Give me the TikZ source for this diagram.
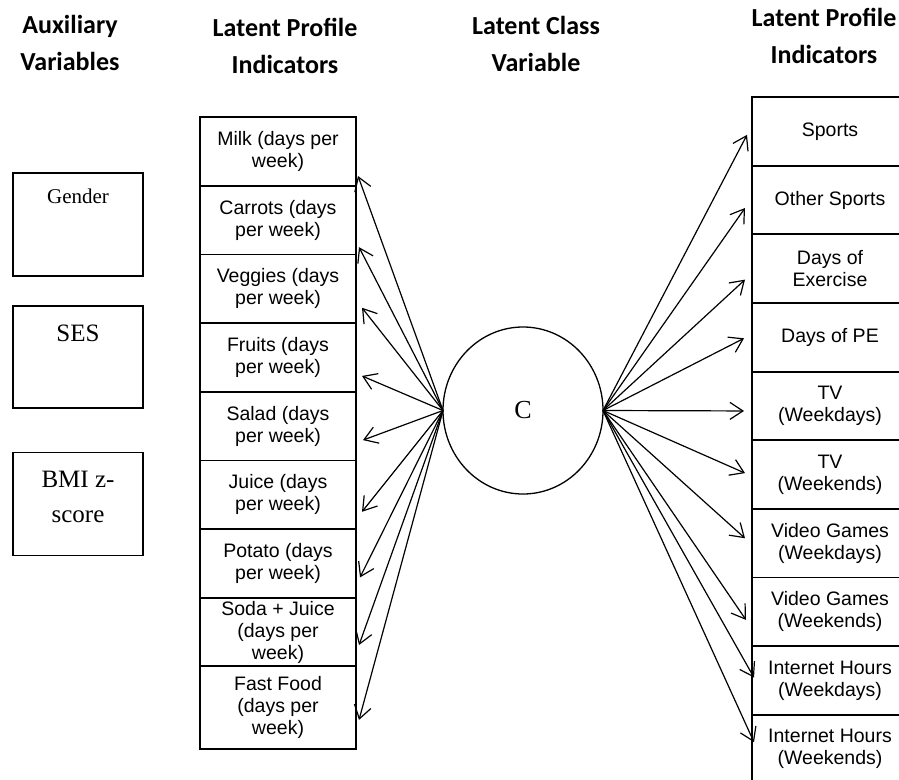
\documentclass[tikz,border=0pt]{standalone}
\usepackage{fontspec}
\setmainfont{Liberation Sans}
\newfontfamily\serifface{Liberation Serif}
\newfontfamily\headface{Carlito}
\usetikzlibrary{positioning,shapes.geometric,arrows.meta}
\tikzset{
	row node/.style={rectangle, draw, line width=1.8pt, minimum width=156pt, minimum height=68.65pt, inner sep=0, outer sep=0, align=center, font=\fontsize{19.5}{22}\selectfont},
	aux node/.style={rectangle, draw, line width=1.8pt, minimum width=130pt, minimum height=103pt, inner sep=0, outer sep=0},
	aux text/.style={inner sep=0, align=center, font=\serifface\fontsize{25}{35}\selectfont},
	class node/.style={ellipse, draw, line width=1.3pt, minimum width=160pt, minimum height=167pt, inner sep=0, outer sep=0, font=\serifface\fontsize{26}{30}\selectfont},
	head node/.style={align=center, inner sep=0, font=\headface\bfseries\fontsize{26}{37}\selectfont},
	link/.style={-{Straight Barb[length=13pt,width=17pt]}, line width=1.2pt},
}
\begin{document}
\begin{tikzpicture}[x=1pt, y=-1pt]
  \useasboundingbox (0,0) rectangle (899,779);
  \clip (0,0) rectangle (899,779);

  % headings
  \node[head node] (auxhead) at (70,43) {Auxiliary\\Variables};
  \node[head node] (lefthead) at (285,45.5) {Latent Profile\\Indicators};
  \node[head node] (classhead) at (536,44) {Latent Class\\Variable};
  \node[head node] (righthead) at (824,36) {Latent Profile\\Indicators};

  % auxiliary variables
  \node[aux node] (gender) at (78,224.5) {};
  \node[aux text, font=\serifface\fontsize{21}{25}\selectfont, below=15.5pt of gender.north] (gendertext) {Gender};
  \node[aux node, minimum height=102pt] (ses) at (78,357) {};
  \node[aux text, below=19pt of ses.north] (sestext) {SES};
  \node[aux node] (bmi) at (78,504) {};
  \node[aux text, below=18pt of bmi.north] (bmitext) {BMI z-\\score};

  % diet indicators
  \node[row node] (milk) at (278,151.5) {Milk (days per\\week)};
  \node[row node, below=0pt of milk] (carrots) {Carrots (days\\per week)};
  \node[row node, below=0pt of carrots] (veggies) {Veggies (days\\per week)};
  \node[row node, below=0pt of veggies] (fruits) {Fruits (days\\per week)};
  \node[row node, below=0pt of fruits] (salad) {Salad (days\\per week)};
  \node[row node, below=0pt of salad] (juice) {Juice (days\\per week)};
  \node[row node, below=0pt of juice] (potato) {Potato (days\\per week)};
  \node[row node, below=0pt of potato] (soda) {Soda + Juice\\(days per\\week)};
  \node[row node, minimum height=83pt, below=0pt of soda] (fastfood) {Fast Food\\(days per\\week)};

  % latent class
  \node[class node] (class) at (523,410.5) {C};

  % activity indicators
  \node[row node] (sports) at (830,131.35) {Sports};
  \node[row node, below=0pt of sports] (othersports) {Other Sports};
  \node[row node, below=0pt of othersports] (exercise) {Days of\\Exercise};
  \node[row node, below=0pt of exercise] (pe) {Days of PE};
  \node[row node, below=0pt of pe] (tvweekdays) {TV\\(Weekdays)};
  \node[row node, below=0pt of tvweekdays] (tvweekends) {TV\\(Weekends)};
  \node[row node, below=0pt of tvweekends] (gamesweekdays) {Video Games\\(Weekdays)};
  \node[row node, below=0pt of gamesweekdays] (gamesweekends) {Video Games\\(Weekends)};
  \node[row node, below=0pt of gamesweekends] (netweekdays) {Internet Hours\\(Weekdays)};
  \node[row node, below=0pt of netweekdays] (netweekends) {Internet Hours\\(Weekends)};

  % arrows to the left
  \draw[link] (class.west) -- ([shift={(2,24.5)}]milk.east);
  \draw[link] (class.west) -- ([shift={(3,27)}]carrots.east);
  \draw[link] (class.west) -- ([shift={(6,19)}]veggies.east);
  \draw[link] (class.west) -- ([shift={(6,18.5)}]fruits.east);
  \draw[link] (class.west) -- ([shift={(7,14)}]salad.east);
  \draw[link] (class.west) -- ([shift={(6,17)}]juice.east);
  \draw[link] (class.west) -- ([shift={(4,14)}]potato.east);
  \draw[link] (class.west) -- ([shift={(3,13)}]soda.east);
  \draw[link] (class.west) -- ([shift={(3,12)}]fastfood.east);

  % arrows to the right
  \draw[link] (class.east) -- ([shift={(-5,3.5)}]sports.west);
  \draw[link] (class.east) -- ([shift={(-7,8)}]othersports.west);
  \draw[link] (class.east) -- ([shift={(-7,11)}]exercise.west);
  \draw[link] (class.east) -- ([shift={(-8,1)}]pe.west);
  \draw[link] (class.east) -- ([shift={(-8,5)}]tvweekdays.west);
  \draw[link] (class.east) -- ([shift={(-7,-1.5)}]tvweekends.west);
  \draw[link] (class.east) -- ([shift={(-7,-5)}]gamesweekdays.west);
  \draw[link] (class.east) -- ([shift={(-6,8)}]gamesweekends.west);
  \draw[link] (class.east) -- ([shift={(2,-3)}]netweekdays.west);
  \draw[link] (class.east) -- ([shift={(2,-7)}]netweekends.west);
\end{tikzpicture}
\end{document}
